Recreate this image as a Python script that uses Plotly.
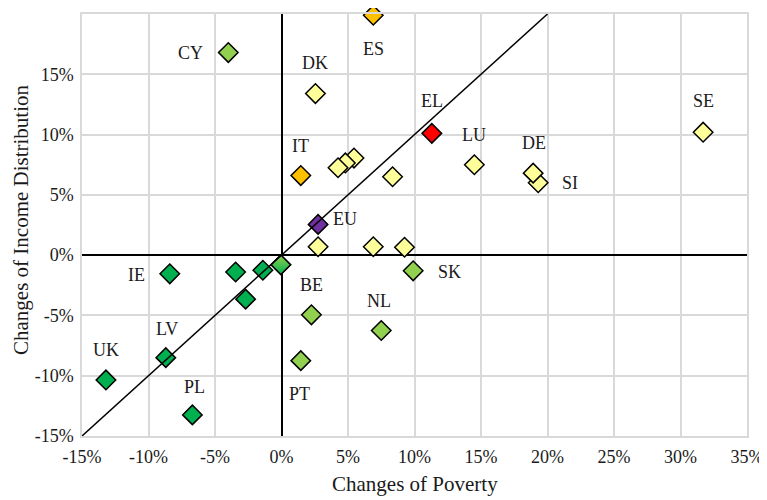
import plotly.graph_objects as go

# ---- data (percent) ----
countries = ["CY", "ES", "DK", "IT", "EU", "EL", "LU", "DE", "SI", "SE",
             "SK", "NL", "BE", "PT", "IE", "LV", "UK", "PL",
             "", "", "", "", "", "", "", "", "", "", ""]
poverty_change = [-4.0, 6.9, 2.55, 1.45, 2.75, 11.3, 14.5, 18.92, 19.3, 31.7,
                  9.9, 7.5, 2.25, 1.45, -8.4, -8.7, -13.2, -6.7,
                  -3.45, -1.4, -2.7, -0.05, 4.25, 4.8, 5.45, 8.35, 2.75, 6.9, 9.25]
income_change = [16.8, 19.9, 13.4, 6.6, 2.55, 10.1, 7.5, 6.8, 6.0, 10.2,
                 -1.3, -6.25, -4.95, -8.75, -1.55, -8.5, -10.35, -13.25,
                 -1.4, -1.25, -3.65, -0.8, 7.25, 7.65, 8.05, 6.5, 0.7, 0.7, 0.65]
group = ["lightgreen", "orange", "yellow", "orange", "purple", "red", "yellow", "yellow", "yellow", "yellow",
         "lightgreen", "lightgreen", "lightgreen", "lightgreen", "darkgreen", "darkgreen", "darkgreen", "darkgreen",
         "darkgreen", "darkgreen", "darkgreen", "mixed", "yellow", "yellow", "yellow", "yellow", "yellow", "yellow", "yellow"]
x_ticks = [-15, -10, -5, 0, 5, 10, 15, 20, 25, 30, 35]
y_ticks = [-15, -10, -5, 0, 5, 10, 15, 20]
x_tick_labels = ["-15%", "-10%", "-5%", "0%", "5%", "10%", "15%", "20%", "25%", "30%", "35%"]
y_tick_labels = ["-15%", "-10%", "-5%", "0%", "5%", "10%", "15%", "20%"]
diag_x = [-15, 20]
diag_y = [-15, 20]

# ---- styles ----
palette = {"lightgreen": "#92D050", "darkgreen": "#00B050", "orange": "#FFC000",
           "yellow": "#FFFF99", "purple": "#7030A0", "red": "#FF0000", "mixed": "#92D050"}
label_shift = {  # pixel offsets of labels from their markers
    "CY": (-38, 0), "ES": (0, -34), "DK": (0, 31), "IT": (0, 30), "EU": (27, 5),
    "EL": (0, 32), "LU": (0, 30), "DE": (1, 30), "SI": (32, 0), "SE": (0, 31),
    "SK": (36, -1), "NL": (-2, 30), "BE": (0, 30), "PT": (-1, -33), "IE": (-33, -1),
    "LV": (1, 29), "UK": (0, 30), "PL": (2, 28),
}
FONT = "Times New Roman, Liberation Serif, DejaVu Serif, serif"
TXT = "#1a1a1a"

fig = go.Figure()

order = list(range(len(countries)))[::-1]
fig.add_trace(go.Scatter(
    x=[poverty_change[i] for i in order],
    y=[income_change[i] for i in order],
    mode="markers", cliponaxis=False,
    marker=dict(
        symbol="diamond", size=15,
        color=[palette[group[i]] for i in order],
        line=dict(color="black", width=1.5),
    ),
    hoverinfo="skip", showlegend=False,
))
mixed_idx = [i for i, g in enumerate(group) if g == "mixed"]
fig.add_trace(go.Scatter(
    x=[poverty_change[i] for i in mixed_idx],
    y=[income_change[i] for i in mixed_idx],
    mode="markers", cliponaxis=False,
    marker=dict(symbol="diamond", size=15, color=palette["lightgreen"],
                gradient=dict(type="vertical", color=palette["darkgreen"]),
                line=dict(color="black", width=1.5)),
    hoverinfo="skip", showlegend=False,
))
fig.add_trace(go.Scatter(x=diag_x, y=diag_y, mode="lines",
                         line=dict(color="black", width=1.5),
                         hoverinfo="skip", showlegend=False))

annotations = []
for name, xv, yv in zip(countries, poverty_change, income_change):
    if not name:
        continue
    dx, dy = label_shift[name]
    annotations.append(dict(x=xv, y=yv, xref="x", yref="y", text=name, showarrow=False,
                            xshift=dx, yshift=dy, font=dict(family=FONT, size=18, color=TXT)))
annotations.append(dict(x=0.5, y=0, xref="paper", yref="paper", text="Changes of Poverty",
                        showarrow=False, yshift=-48, yanchor="middle",
                        font=dict(family=FONT, size=21, color=TXT)))
annotations.append(dict(x=0, y=0.5, xref="paper", yref="paper", text="Changes of Income Distribution",
                        showarrow=False, xshift=-61, yshift=5, textangle=-90, xanchor="center",
                        font=dict(family=FONT, size=21, color=TXT)))

axis_common = dict(showgrid=True, gridcolor="#D9D9D9", gridwidth=1.5,
                   zeroline=True, zerolinecolor="black", zerolinewidth=1.5,
                   showline=True, linecolor="#D9D9D9", linewidth=1.5, mirror=True,
                   ticks="", automargin=False, tickmode="array",
                   tickfont=dict(family=FONT, size=18, color=TXT))
fig.update_layout(
    width=759, height=492,
    margin=dict(l=74, r=20, t=6, b=64),
    plot_bgcolor="white", paper_bgcolor="white",
    font=dict(family=FONT, color=TXT),
    xaxis=dict(range=[-15, 35], tickvals=x_ticks, ticktext=x_tick_labels, ticklabelstandoff=4, **axis_common),
    yaxis=dict(range=[-15, 20], tickvals=y_ticks, ticktext=y_tick_labels, ticklabelstandoff=3, **axis_common),
    annotations=annotations,
)
fig.write_html("out.html")
